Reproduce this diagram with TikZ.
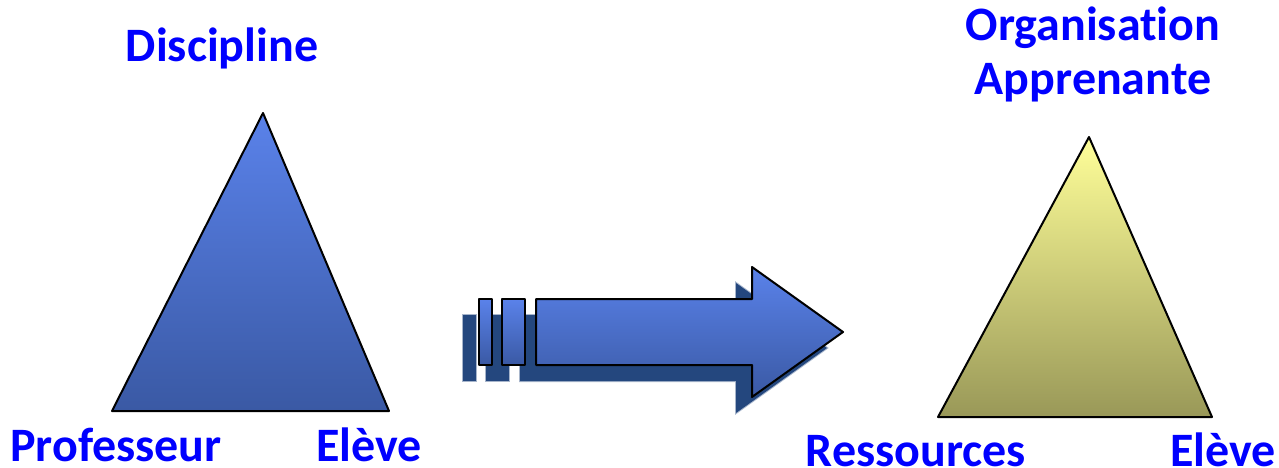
\documentclass[tikz,border=0pt]{standalone}
\usepackage{fontspec}
\setmainfont{Carlito}[Ligatures=NoCommon]
\begin{document}
\begin{tikzpicture}[x=1pt,y=-1pt,
  lbl/.style={text=blue,font=\bfseries\fontsize{48}{52}\selectfont,inner sep=0pt,anchor=base},
  bluefill/.style={draw=black,line width=2pt,line join=round,top color=bluetop,bottom color=bluebot},
  yellowfill/.style={draw=black,line width=2pt,line join=round,top color=yeltop,bottom color=yelbot},
  shadowfill/.style={fill=shadowc,draw=shadowc,draw opacity=0.4,line width=2pt}]
\definecolor{bluetop}{HTML}{5A82EA}
\definecolor{bluebot}{HTML}{3A59A4}
\definecolor{yeltop}{HTML}{FFFF99}
\definecolor{yelbot}{HTML}{999858}
\definecolor{shadowc}{HTML}{24477E}
\useasboundingbox (0,0) rectangle (1279,468);
% left triangle
\path[bluefill] (263,113) -- (389,411) -- (112,411) -- cycle;
% right triangle
\path[yellowfill] (1089,137) -- (1212,417) -- (938,417) -- cycle;
% arrow shadow
\begin{scope}[shift={(-16,16)}]
\path[shadowfill] (479,299) rectangle (492,365);
\path[shadowfill] (502,299) rectangle (525,365);
\path[shadowfill] (536,299) -- (752,299) -- (752,267) -- (843,332) -- (752,397) -- (752,365) -- (536,365) -- cycle;
\end{scope}
% arrow
\path[bluefill] (479,299) rectangle (492,365);
\path[bluefill] (502,299) rectangle (525,365);
\path[bluefill] (536,299) -- (752,299) -- (752,267) -- (843,332) -- (752,397) -- (752,365) -- (536,365) -- cycle;
% labels
\node[lbl] (disc) at (222,62) {Discipline};
\node[lbl] (prof) at (116,461) {Professeur};
\node[lbl] (el1) at (369,461) {Elève};
\node[lbl] (org) at (1093,41) {Organisation};
\node[lbl] (app) at (1093,95) {Apprenante};
\node[lbl] (res) at (916,466) {Ressources};
\node[lbl] (el2) at (1223,466) {Elève};
\end{tikzpicture}
\end{document}
